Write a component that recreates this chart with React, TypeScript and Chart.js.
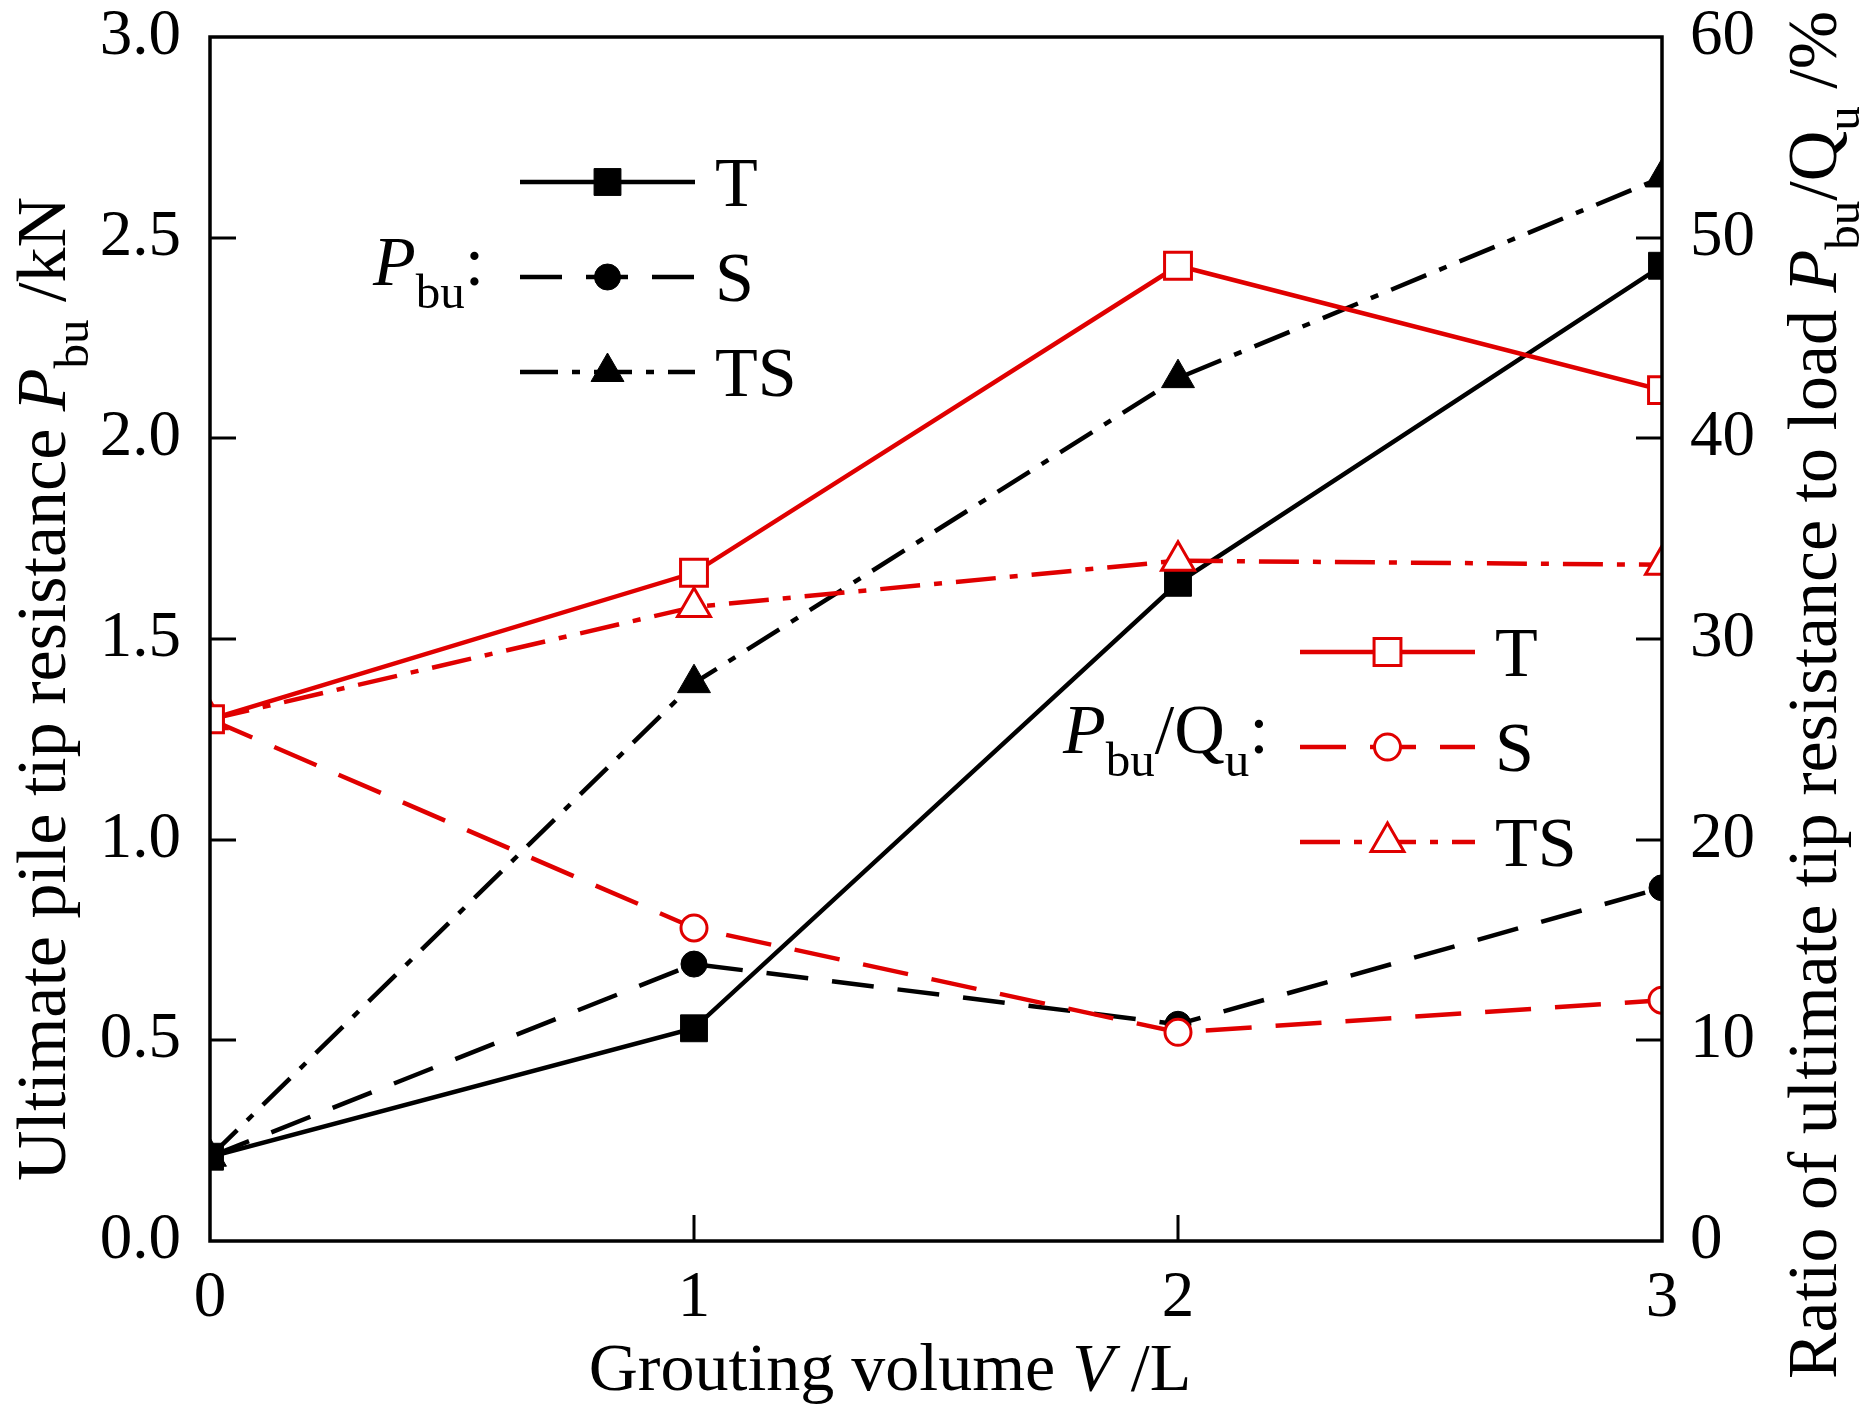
import React, { useEffect, useRef } from 'react';
import { Chart, registerables } from 'chart.js';

Chart.register(...registerables);

// ---------- data ----------
const volumes = [0, 1, 2, 3];
const seriesNames = ['T', 'S', 'TS'];
const pbuT = [0.21, 0.53, 1.64, 2.43];
const pbuS = [0.21, 0.69, 0.54, 0.88];
const pbuTS = [0.21, 1.39, 2.15, 2.65];
const ratioT = [26.0, 33.3, 48.6, 42.4];
const ratioS = [26.0, 15.6, 10.4, 12.0];
const ratioTS = [26.0, 31.6, 33.9, 33.7];

const leftTickStep = 0.5;
const rightTickStep = 10;
const xTickStep = 1;

// ---------- style ----------
const FONT = '"Liberation Serif", "Times New Roman", Times, serif';
const RED = '#e00000';
const BLACK = '#000000';
const TITLE_SIZE = 70;
const TICK_SIZE = 65;

type Part = { t: string; it?: boolean; sub?: boolean };

function setFont(ctx: CanvasRenderingContext2D, p: Part, size: number) {
  const s = p.sub ? size * 0.7 : size;
  ctx.font = `${p.it ? 'italic ' : ''}${s}px ${FONT}`;
}
function richWidth(ctx: CanvasRenderingContext2D, parts: Part[], size: number) {
  let w = 0;
  for (const p of parts) {
    setFont(ctx, p, size);
    w += ctx.measureText(p.t).width;
  }
  return w;
}
function drawRich(ctx: CanvasRenderingContext2D, parts: Part[], x: number, y: number, size: number) {
  let cx = x;
  ctx.textAlign = 'left';
  ctx.textBaseline = 'alphabetic';
  ctx.fillStyle = '#000';
  for (const p of parts) {
    setFont(ctx, p, size);
    ctx.fillText(p.t, cx, y + (p.sub ? size * 0.33 : 0));
    cx += ctx.measureText(p.t).width;
  }
}

function drawMarker(ctx: CanvasRenderingContext2D, style: string, x: number, y: number, r: number, fill: string, stroke: string, lw: number) {
  ctx.save();
  ctx.setLineDash([]);
  ctx.beginPath();
  if (style === 'rect') {
    const s = r * Math.SQRT1_2;
    ctx.rect(x - s, y - s, 2 * s, 2 * s);
  } else if (style === 'circle') {
    ctx.arc(x, y, r, 0, Math.PI * 2);
  } else {
    for (let k = 0; k < 3; k++) {
      const a = (k * 2 * Math.PI) / 3;
      const px = x + Math.sin(a) * r;
      const py = y - Math.cos(a) * r;
      if (k === 0) ctx.moveTo(px, py); else ctx.lineTo(px, py);
    }
    ctx.closePath();
  }
  ctx.fillStyle = fill;
  ctx.fill();
  ctx.lineWidth = lw;
  ctx.strokeStyle = stroke;
  ctx.stroke();
  ctx.restore();
}

const leftTitle: Part[] = [{ t: 'Ultimate pile tip resistance ' }, { t: 'P', it: true }, { t: 'bu', sub: true }, { t: ' /kN' }];
const rightTitle: Part[] = [
  { t: 'Ratio of ultimate tip resistance to load ' },
  { t: 'P', it: true },
  { t: 'bu', sub: true },
  { t: '/Q' },
  { t: 'u', sub: true },
  { t: ' /%' },
];
const xTitle: Part[] = [{ t: 'Grouting volume ' }, { t: 'V', it: true }, { t: ' /L' }];
const legend1Label: Part[] = [{ t: 'P', it: true }, { t: 'bu', sub: true }, { t: ':' }];
const legend2Label: Part[] = [{ t: 'P', it: true }, { t: 'bu', sub: true }, { t: '/Q' }, { t: 'u', sub: true }, { t: ':' }];

const decorPlugin = {
  id: 'decor',
  afterDatasetsDraw(chart: any) {
    const ctx: CanvasRenderingContext2D = chart.ctx;
    const { left, right, top, bottom } = chart.chartArea;
    const y = chart.scales.y;
    const y1 = chart.scales.y1;
    const x = chart.scales.x;
    ctx.save();
    ctx.strokeStyle = '#000';
    ctx.setLineDash([]);
    // inward ticks
    ctx.lineWidth = 3;
    const tl = 26;
    for (const t of y.ticks) {
      if (t.value <= y.min || t.value >= y.max) continue;
      const py = Math.round(y.getPixelForValue(t.value));
      ctx.beginPath(); ctx.moveTo(left, py); ctx.lineTo(left + tl, py); ctx.stroke();
    }
    for (const t of y1.ticks) {
      if (t.value <= y1.min || t.value >= y1.max) continue;
      const py = Math.round(y1.getPixelForValue(t.value));
      ctx.beginPath(); ctx.moveTo(right, py); ctx.lineTo(right - tl, py); ctx.stroke();
    }
    for (const t of x.ticks) {
      if (t.value <= x.min || t.value >= x.max) continue;
      const px = Math.round(x.getPixelForValue(t.value));
      ctx.beginPath(); ctx.moveTo(px, bottom); ctx.lineTo(px, bottom - tl); ctx.stroke();
    }
    // frame
    ctx.lineWidth = 3.5;
    ctx.strokeRect(left, top, right - left, bottom - top);
    ctx.restore();
  },
  afterDraw(chart: any) {
    const ctx: CanvasRenderingContext2D = chart.ctx;
    const ds = chart.data.datasets;
    ctx.save();
    // axis titles
    ctx.save();
    ctx.translate(65, 689);
    ctx.rotate(-Math.PI / 2);
    drawRich(ctx, leftTitle, -richWidth(ctx, leftTitle, TITLE_SIZE) / 2, 0, TITLE_SIZE);
    ctx.restore();
    ctx.save();
    ctx.translate(1836, 695);
    ctx.rotate(-Math.PI / 2);
    drawRich(ctx, rightTitle, -richWidth(ctx, rightTitle, TITLE_SIZE) / 2, 0, TITLE_SIZE);
    ctx.restore();
    drawRich(ctx, xTitle, 890 - richWidth(ctx, xTitle, 68) / 2, 1390, 68);

    // legends
    const drawRow = (d: any, x1: number, x2: number, yy: number, text: string) => {
      ctx.save();
      ctx.strokeStyle = d.borderColor;
      ctx.lineWidth = d.borderWidth;
      ctx.setLineDash(d.borderDash || []);
      ctx.beginPath(); ctx.moveTo(x1, yy); ctx.lineTo(x2, yy); ctx.stroke();
      ctx.restore();
      drawMarker(ctx, d.pointStyle, (x1 + x2) / 2, yy, d.pointRadius, d.pointBackgroundColor, d.pointBorderColor, d.pointBorderWidth);
      drawRich(ctx, [{ t: text }], x2 + 20, yy + 24, TITLE_SIZE);
    };
    const blackSets = ds.filter((d: any) => d.group === 'pbu');
    const redSets = ds.filter((d: any) => d.group === 'ratio');
    const rows1 = [182, 277, 372];
    const rows2 = [652, 747, 842];
    blackSets.forEach((d: any, i: number) => drawRow(d, 520, 695, rows1[i], d.label));
    redSets.forEach((d: any, i: number) => drawRow(d, 1300, 1475, rows2[i], d.label));
    drawRich(ctx, legend1Label, 373, 285, TITLE_SIZE);
    drawRich(ctx, legend2Label, 1063, 753, TITLE_SIZE);
    ctx.restore();
  },
};

const toPts = (vals: number[]) => volumes.map((v, i) => ({ x: v, y: vals[i] }));

const blackDashes = [[], [42, 24], [38, 14, 8, 14]];
const redDashes = [[], [46, 24], [40, 14, 8, 14]];
const markers = ['rect', 'circle', 'triangle'];
const radii = [19, 13, 19];

export default function App() {
  const ref = useRef<HTMLCanvasElement | null>(null);
  useEffect(() => {
    if (!ref.current) return;
    document.body.style.margin = '0';
    const pbu = [pbuT, pbuS, pbuTS];
    const ratio = [ratioT, ratioS, ratioTS];
    const redDs = ratio.map((vals, i) => ({
      label: seriesNames[i],
      group: 'ratio',
      data: toPts(vals),
      yAxisID: 'y1',
      borderColor: RED,
      borderWidth: 4.5,
      borderDash: redDashes[i],
      pointStyle: markers[i],
      pointRadius: radii[i],
      pointBackgroundColor: '#ffffff',
      pointBorderColor: RED,
      pointBorderWidth: 3,
      fill: false,
      tension: 0,
      clip: 0,
    }));
    const blackDs = pbu.map((vals, i) => ({
      label: seriesNames[i],
      group: 'pbu',
      data: toPts(vals),
      yAxisID: 'y',
      borderColor: BLACK,
      borderWidth: 4.5,
      borderDash: blackDashes[i],
      pointStyle: markers[i],
      pointRadius: radii[i],
      pointBackgroundColor: BLACK,
      pointBorderColor: BLACK,
      pointBorderWidth: 1,
      fill: false,
      tension: 0,
      clip: 0,
    }));
    const tickFont = { family: FONT, size: TICK_SIZE, lineHeight: 1 };
    const chart = new Chart(ref.current, {
      type: 'line',
      data: { datasets: [...redDs, ...blackDs] as any },
      options: {
        animation: false,
        responsive: false,
        devicePixelRatio: 1,
        events: [],
        layout: { padding: { top: 37, left: 0, right: 0, bottom: 0 } },
        plugins: { legend: { display: false }, tooltip: { enabled: false }, title: { display: false } },
        scales: {
          x: {
            type: 'linear',
            position: 'bottom',
            min: 0,
            max: 3,
            grid: { display: false, drawTicks: true, tickLength: 25 },
            border: { display: false },
            ticks: { stepSize: xTickStep, color: '#000', font: tickFont, padding: 0, autoSkip: false, maxRotation: 0 },
            afterFit: (s: any) => { s.height = 180; },
          },
          y: {
            type: 'linear',
            position: 'left',
            min: 0,
            max: 3,
            grid: { display: false, drawTicks: true, tickLength: 29 },
            border: { display: false },
            ticks: { stepSize: leftTickStep, color: '#000', font: tickFont, padding: 0, callback: (v: any) => Number(v).toFixed(1) },
            afterFit: (s: any) => { s.width = 210; },
          },
          y1: {
            type: 'linear',
            position: 'right',
            min: 0,
            max: 60,
            grid: { display: false, drawTicks: true, tickLength: 28 },
            border: { display: false },
            ticks: { stepSize: rightTickStep, color: '#000', font: tickFont, padding: 0 },
            afterFit: (s: any) => { s.width = 209; },
          },
        },
      } as any,
      plugins: [decorPlugin],
    });
    return () => chart.destroy();
  }, []);
  return (
    <div style={{ position: 'absolute', left: 0, top: 0, width: 1871, height: 1421, background: '#fff' }}>
      <canvas ref={ref} width={1871} height={1421} style={{ display: 'block', width: 1871, height: 1421 }} />
    </div>
  );
}
